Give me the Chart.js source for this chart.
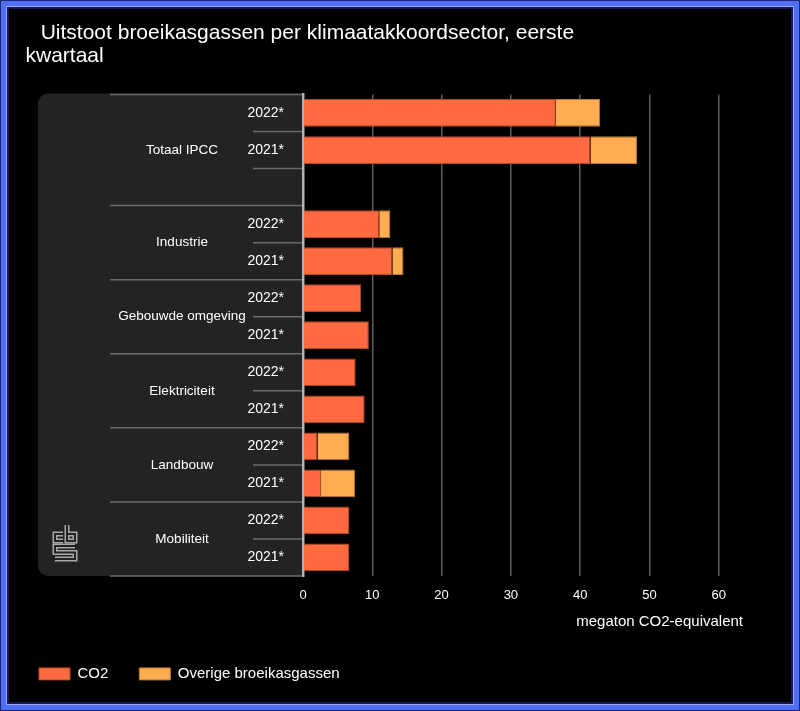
<!DOCTYPE html>
<html>
<head>
<meta charset="utf-8">
<title>Uitstoot broeikasgassen per klimaatakkoordsector</title>
<script src="https://cdn.jsdelivr.net/npm/chart.js@4.4.1/dist/chart.umd.min.js"></script>
<style>
  html, body { margin: 0; padding: 0; background: #000; }
  #wrap { position: relative; width: 800px; height: 711px; }
  #wrap canvas { position: absolute; left: 0; top: 0; }
  #frame { position: absolute; left: 0; top: 0; width: 800px; height: 711px; box-sizing: border-box;
           border: 1px solid #1b2570; pointer-events: none; }
  #frame div { width: 100%; height: 100%; box-sizing: border-box; border: 5px solid #4f6ef5;
               box-shadow: inset 0 0 0 1px #9aabff, inset 0 0 0 3px #15195a; }
</style>
</head>
<body>
<div id="wrap">
  <canvas id="emissionChart" width="800" height="711"></canvas>
  <div id="frame"><div></div></div>
</div>
<script>
// data (megaton CO2-equivalent)
var sectors = ['Totaal IPCC', 'Industrie', 'Gebouwde omgeving', 'Elektriciteit', 'Landbouw', 'Mobiliteit'];
var years = ['2022*', '2021*'];
var co2 =    [36.5, 41.5, 11.0, 12.9, 8.4, 9.5, 7.6, 8.9, 2.1, 2.6, 6.7, 6.7];
var overig = [6.4, 6.7, 1.6, 1.6, 0, 0, 0, 0, 4.6, 4.9, 0, 0];
var xTicks = [0, 10, 20, 30, 40, 50, 60];

// rows for the category axis; Totaal IPCC gets an empty slot below it
var rowLabels = [], co2Rows = [], overigRows = [], groupEdges = [0];
var k = 0;
sectors.forEach(function (s, i) {
	years.forEach(function (y) {
		rowLabels.push(y);
		co2Rows.push(co2[k]);
		overigRows.push(overig[k]);
		k++;
	});
	if (i === 0) {
		rowLabels.push('');
		co2Rows.push(null);
		overigRows.push(null);
	}
	groupEdges.push(rowLabels.length);
});

var FONT = "'Liberation Sans', Arial, sans-serif";
Chart.defaults.font.family = FONT;
Chart.defaults.color = '#ffffff';

// dark panel behind the category axis, with the sector names and separators
var sectorPanel = {
	id: 'sectorPanel',
	beforeDraw: function (chart) {
		var ctx = chart.ctx, y = chart.scales.y, area = chart.chartArea;
		var step = y.getPixelForValue(1) - y.getPixelForValue(0);
		var top = y.getPixelForValue(0) - step / 2;
		var edge = function (n) { return top + n * step; };
		var n = rowLabels.length;

		ctx.save();
		ctx.fillStyle = '#232323';
		ctx.beginPath();
		ctx.roundRect(38, top - 1, area.left - 38, edge(n) - top + 1, [10, 0, 0, 10]);
		ctx.fill();

		ctx.strokeStyle = '#6b6b6b';
		ctx.lineWidth = 1.5;
		for (var i = 0; i <= n; i++) {
			var x0 = groupEdges.indexOf(i) >= 0 ? 110 : 253;
			ctx.beginPath();
			ctx.moveTo(x0, edge(i));
			ctx.lineTo(area.left, edge(i));
			ctx.stroke();
		}

		ctx.fillStyle = '#ffffff';
		ctx.font = '13.5px ' + FONT;
		ctx.textAlign = 'center';
		ctx.textBaseline = 'middle';
		sectors.forEach(function (s, g) {
			ctx.fillText(s, 182, (edge(groupEdges[g]) + edge(groupEdges[g + 1])) / 2);
		});

		// cbs logo
		var logo = [
			[[63, 534], [55, 534], [55, 541], [63, 541]],
			[[67, 525], [67, 541], [75, 541], [75, 534], [67, 534]],
			[[75, 546], [55, 546], [55, 552.5], [75, 552.5], [75, 559], [55, 559]]
		];
		ctx.lineJoin = 'miter';
		[['#a8a8a8', 5], ['#232323', 2]].forEach(function (st) {
			ctx.strokeStyle = st[0];
			ctx.lineWidth = st[1];
			logo.forEach(function (p) {
				ctx.beginPath();
				ctx.moveTo(p[0][0], p[0][1]);
				for (var j = 1; j < p.length; j++) ctx.lineTo(p[j][0], p[j][1]);
				ctx.stroke();
			});
		});
		ctx.restore();
	}
};

var ctx = document.getElementById('emissionChart').getContext('2d');
var emissionChart = new Chart(ctx, {
	type: 'bar',
	data: {
		labels: rowLabels,
		datasets: [{
			label: 'CO2',
			data: co2Rows,
			backgroundColor: '#ff6a40',
			borderColor: '#b54a2a',
			borderWidth: 1,
			categoryPercentage: 1,
			barPercentage: 0.75
		}, {
			label: 'Overige broeikasgassen',
			data: overigRows,
			backgroundColor: '#ffad50',
			borderColor: '#b57a35',
			borderWidth: 1,
			categoryPercentage: 1,
			barPercentage: 0.75
		}]
	},
	options: {
		indexAxis: 'y',
		responsive: false,
		animation: false,
		layout: { padding: { left: 8, right: 57, top: 0, bottom: 19.6 } },
		scales: {
			x: {
				stacked: true,
				min: 0,
				max: 63.5,
				afterBuildTicks: function (scale) {
					scale.ticks = xTicks.map(function (v) { return { value: v }; });
				},
				afterFit: function (scale) { scale.height = 59.4; },
				grid: { color: '#5e5e5e', lineWidth: 1.5, drawTicks: false },
				border: { display: false },
				ticks: { color: '#ffffff', font: { size: 13 }, padding: 12 },
				title: {
					display: true,
					text: 'megaton CO2-equivalent',
					align: 'end',
					color: '#ffffff',
					font: { size: 15 },
					padding: { top: 0, bottom: 4.9 }
				}
			},
			y: {
				stacked: true,
				afterFit: function (scale) { scale.width = 295; },
				grid: { display: false, drawTicks: false },
				border: { display: true, color: '#b4b4b4', width: 2.5 },
				ticks: { color: '#ffffff', font: { size: 14 }, padding: 19, autoSkip: false }
			}
		},
		plugins: {
			title: {
				display: true,
				text: ['\u2002\u2002  Uitstoot broeikasgassen per klimaatakkoordsector, eerste', '   kwartaal'],
				align: 'start',
				color: '#ffffff',
				font: { size: 21, weight: 'normal', lineHeight: 1.08 },
				padding: { top: 22.35, bottom: 26.75 }
			},
			legend: {
				position: 'bottom',
				align: 'start',
				labels: { color: '#ffffff', font: { size: 15 }, boxWidth: 31, boxHeight: 12, padding: 31 }
			},
			tooltip: { enabled: false }
		}
	},
	plugins: [sectorPanel]
});
</script>
</body>
</html>
